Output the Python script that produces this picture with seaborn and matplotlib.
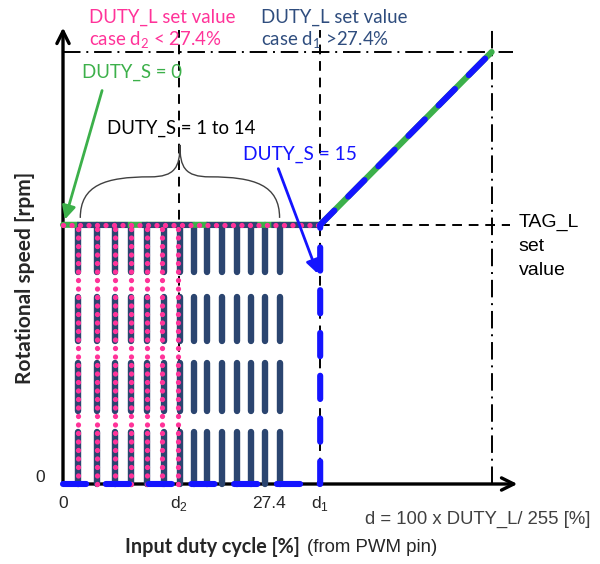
import numpy as np
import pandas as pd
import matplotlib
matplotlib.use("Agg")
import matplotlib.pyplot as plt
import seaborn as sns
from matplotlib.path import Path
from matplotlib.patches import PathPatch

# ========== DATA (chart units: x = duty cycle %, y = speed, TAG_L level = 60) ==========
D2 = 15.4
D1 = 34.2
D_MAX = 57.0
X_274 = 27.4
Y_TAG = 60
Y_MAX = 100

# DUTY_S = 1 to 14 -> dark blue bars
bar_x = [2.0, 4.5, 6.9, 9.0, 11.2, 13.4, 15.6, 17.4, 19.1, 21.1, 23.2, 25.0, 26.9, 28.9]
bar_seg_lo = [0, 17, 33, 49]
bar_seg_hi = [12, 28, 43.3, 60]

# case d2 < 27.4 -> pink dotted lines
pink_x = [2.0, 4.5, 6.9, 9.0, 11.2, 13.2, 15.3]

# speed curves
green_x = [0, D1, D_MAX]
green_y = [Y_TAG, Y_TAG, Y_MAX]
blue_x = [0, D1, D1, D_MAX]
blue_y = [0, 0, Y_TAG, Y_MAX]

tick_pos = [0, D2, X_274, D1]
tick_lab = ["0", "d$_\\mathregular{2}$", "27.4", "d$_\\mathregular{1}$"]

PINK = "#ff3399"
NAVY = "#2b4570"
GREEN = "#3cb04a"
BLUE = "#1414ff"

# ========== STYLE ==========
sns.set_theme(style="white")
plt.rcParams["font.family"] = ["Lato", "DejaVu Sans"]
plt.rcParams["mathtext.fontset"] = "custom"
plt.rcParams["mathtext.rm"] = "Lato"

fig = plt.figure(figsize=(6, 5.64), dpi=100)
ax = fig.add_axes([0, 0, 1, 1])
ax.set_xlim(-8.378, 71.41)
ax.set_ylim(-18.52, 112.04)
ax.axis("off")

# ========== GUIDE LINES ==========
dashed = (0, (5, 3.5))
dashdot = (0, (9, 3, 1, 3))
ax.plot([D2, D2], [0, 105.1], color="black", lw=1.4, ls=dashed, zorder=1)
ax.plot([D1, D1], [0, 105.1], color="black", lw=1.4, ls=dashed, zorder=1)
ax.plot([D1, 59.4], [Y_TAG, Y_TAG], color="black", lw=1.4, ls=dashed, zorder=1)
ax.plot([0, 59.8], [Y_MAX, Y_MAX], color="black", lw=1.4, ls=dashdot, zorder=1)
ax.plot([D_MAX, D_MAX], [0, 105.1], color="black", lw=1.4, ls=dashdot, zorder=1)

# axes with arrows
ax.annotate("", xy=(0, 106.3), xytext=(0, -0.3),
            arrowprops=dict(arrowstyle="->", lw=2.4, color="black", mutation_scale=22), zorder=2)
ax.annotate("", xy=(60.8, 0), xytext=(-0.2, 0),
            arrowprops=dict(arrowstyle="->", lw=2.4, color="black", mutation_scale=22), zorder=2)

# ========== BARS & DOTS ==========
for x in bar_x:
    lc = ax.vlines([x] * len(bar_seg_lo), bar_seg_lo, bar_seg_hi, color=NAVY, lw=4.6, zorder=3)
    lc.set_capstyle("round")

dots = (0, (0.01, 1.6))
for x in pink_x:
    ax.plot([x, x], [0, Y_TAG], color=PINK, lw=3.8, ls=dots, dash_capstyle="round", zorder=5)

# ========== SPEED CURVES ==========
sns.lineplot(x=green_x, y=green_y, color=GREEN, lw=4.4, estimator=None, sort=False, ax=ax, zorder=4)
ax.plot([0, D1], [Y_TAG, Y_TAG], color=NAVY, lw=4.4, ls=(8.3, (8.3, 2.3)), zorder=4.5)
ax.plot([0, D1], [Y_TAG, Y_TAG], color=PINK, lw=3.8, ls=dots, dash_capstyle="round", zorder=5)
sns.lineplot(x=blue_x, y=blue_y, color=BLUE, lw=4.4, estimator=None, sort=False, ax=ax, zorder=6)
ax.lines[-1].set_linestyle((0, (3.8, 3.2)))
ax.lines[-1].set_dash_capstyle("round")

# ========== BRACE ==========
bx0, bx1, by0, bys, byt = 2.3, 28.8, 61.6, 71.1, 78.5
bm = (bx0 + bx1) / 2
h = bm - bx0
verts = [(bx0, by0), (bx0, by0 + 0.8 * (bys - by0)), (bx0 + 0.25 * h, bys), (bx0 + 0.7 * h, bys),
         (bx0 + 0.95 * h, bys), (bm, bys + 0.3 * (byt - bys)), (bm, byt),
         (bm, bys + 0.3 * (byt - bys)), (bx1 - 0.95 * h, bys), (bx1 - 0.7 * h, bys),
         (bx1 - 0.25 * h, bys), (bx1, by0 + 0.8 * (bys - by0)), (bx1, by0)]
codes = [Path.MOVETO] + [Path.CURVE4] * 12
ax.add_patch(PathPatch(Path(verts, codes), fill=False, edgecolor="#404040", lw=1.0, zorder=2))

# ========== ANNOTATIONS ==========
ax.annotate("", xy=(0.15, 60.6), xytext=(5.3, 91.7),
            arrowprops=dict(arrowstyle="-|>", lw=2.0, color=GREEN, mutation_scale=20), zorder=7)
ax.annotate("", xy=(34.0, 48.1), xytext=(28.5, 73.6),
            arrowprops=dict(arrowstyle="-|>", lw=2.0, color=BLUE, mutation_scale=20), zorder=7)

fs = 13.4
ax.text(3.5, 108.1, "DUTY_L set value", color=PINK, fontsize=fs, va="center", ha="left")
ax.text(3.5, 102.6, "case d$_\\mathregular{2}$ < 27.4%", color=PINK, fontsize=fs, va="center", ha="left")
ax.text(26.3, 108.1, "DUTY_L set value", color="#2f4d7e", fontsize=fs, va="center", ha="left")
ax.text(26.3, 102.6, "case d$_\\mathregular{1}$ >27.4%", color="#2f4d7e", fontsize=fs, va="center", ha="left")
ax.text(2.5, 95.4, "DUTY_S = 0", color=GREEN, fontsize=fs, va="center", ha="left")
ax.text(5.8, 82.4, "DUTY_S = 1 to 14", color="black", fontsize=fs, va="center", ha="left")
ax.text(23.9, 76.2, "DUTY_S = 15", color=BLUE, fontsize=13.8, va="center", ha="left")

sans = ["Liberation Sans", "DejaVu Sans"]
for i, t in enumerate(["TAG_L", "set", "value"]):
    ax.text(60.6, 60.6 - 5.55 * i, t, color="black", fontsize=14, va="center", ha="left", family=sans)

ax.text(-3.06, 1.4, "0", fontsize=12.5, va="center", ha="center", family=sans)
for p, lab in zip(tick_pos, tick_lab):
    ax.text(p, -4.4, lab, fontsize=12.5, va="center", ha="center", family=sans)

ax.text(40.2, -8.3, "d = 100 x DUTY_L/ 255 [%]", color="#404040", fontsize=13.3,
        va="center", ha="left", family=sans)
ax.text(8.3, -14.6, "Input duty cycle [%]", fontsize=14.2, fontweight="bold", va="center", ha="left")
ax.text(32.5, -14.6, "(from PWM pin)", fontsize=13.4, va="center", ha="left", family=sans)
ax.text(-5.05, 47.7, "Rotational speed [rpm]", fontsize=15, fontweight="bold", rotation=90,
        va="center", ha="center")

fig.savefig("out.png", dpi=100)
